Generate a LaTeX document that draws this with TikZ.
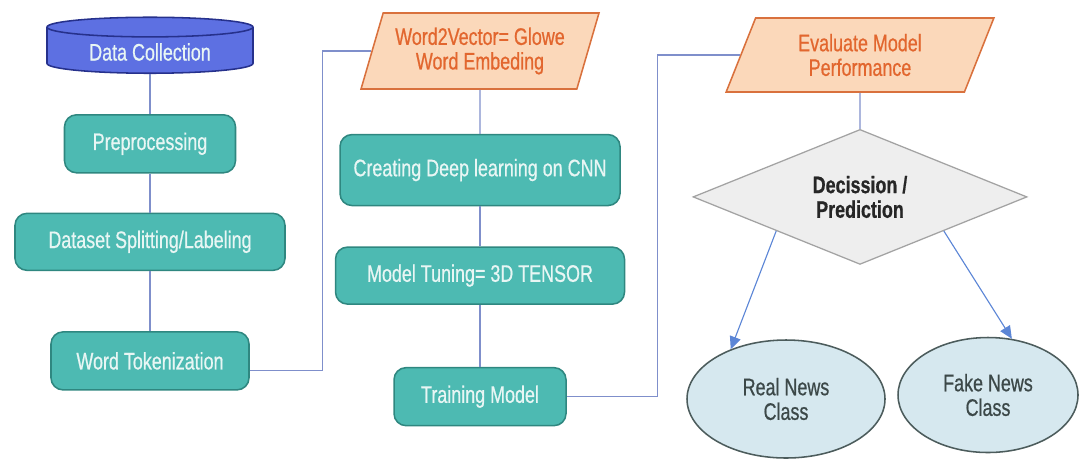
\documentclass[tikz,border=0pt]{standalone}
\usepackage{fontspec}
\setmainfont{Liberation Sans}[FakeStretch=0.75, FakeBold=0.6]
\usepackage{tikz}
\usetikzlibrary{shapes, arrows.meta, positioning}

\definecolor{tealfill}{HTML}{4DBAB2}
\definecolor{tealline}{HTML}{2F8780}
\definecolor{tealtext}{HTML}{E8F6F4}
\definecolor{dbfill}{HTML}{5D70E2}
\definecolor{dbline}{HTML}{26318C}
\definecolor{peachfill}{HTML}{FBD8BA}
\definecolor{peachline}{HTML}{D9713D}
\definecolor{peachtext}{HTML}{E2662E}
\definecolor{wirecol}{HTML}{7F8FCB}
\definecolor{arrowcol}{HTML}{5C86D6}
\definecolor{decfill}{HTML}{EEEEEE}
\definecolor{decline}{HTML}{A3A3A3}
\definecolor{classfill}{HTML}{D6E8EF}
\definecolor{classline}{HTML}{4C5C5C}
\definecolor{classtext}{HTML}{3C4848}

\begin{document}
\begin{tikzpicture}[
    font=\fontsize{17}{17.5}\selectfont,
    stage/.style={rectangle, rounded corners=0.3cm, draw=tealline, line width=1.1pt, fill=tealfill, text=tealtext, minimum height=1.45cm, align=center},
    io/.style={trapezium, trapezium left angle=70, trapezium right angle=110, trapezium stretches=true, draw=peachline, line width=1.1pt, fill=peachfill, text=peachtext, align=center},
    db/.style={cylinder, shape border rotate=90, shape aspect=0.15, draw=dbline, line width=1.1pt, cylinder uses custom fill, cylinder body fill=dbfill, cylinder end fill=dbfill, text=tealtext},
    decide/.style={diamond, aspect=2.6, inner sep=0pt, draw=decline, line width=0.9pt, fill=decfill, text=black!85, font=\fontsize{17}{17.5}\selectfont\bfseries, align=center},
    outcome/.style={ellipse, draw=classline, line width=1.1pt, fill=classfill, text=classtext, align=center},
    wire/.style={draw=wirecol, line width=0.8pt},
    arrow/.style={-{Triangle[length=9pt, width=8pt]}, draw=arrowcol, line width=0.8pt}
]
    \useasboundingbox (0,0) rectangle (27,-11.475);

    % Data preparation
    \node[db, minimum width=5.15cm, minimum height=1.4cm] (data) at (3.75,-1.3) {Data Collection};
    \node[stage, minimum width=4.275cm, below=1cm of data] (prep) {Preprocessing};
    \node[stage, minimum width=6.75cm, minimum height=1.425cm, below=0.975cm of prep] (split) {Dataset Splitting/Labeling};
    \node[stage, minimum width=4.95cm, below=1.5cm of split] (tok) {Word Tokenization};

    % Model
    \node[io, minimum width=5.95cm, minimum height=1.9cm] (w2v) at (12,-1.275) {Word2Vector= Glowe \\ Word Embeding};
    \node[stage, minimum width=7cm, minimum height=1.775cm, below=1.1cm of w2v] (cnn) {Creating Deep learning on CNN};
    \node[stage, minimum width=7.225cm, minimum height=1.425cm, below=1cm of cnn] (tune) {Model Tuning= 3D TENSOR};
    \node[stage, minimum width=4.3cm, below=1.55cm of tune] (train) {Training Model};

    % Evaluation
    \node[io, minimum width=6.7cm, minimum height=1.85cm] (eval) at (21.5,-1.375) {Evaluate Model \\ Performance};
    \node[decide, minimum width=8.35cm, minimum height=3.375cm, below=0.9cm of eval] (dec) {Decission / \\ Prediction};
    \node[outcome, minimum width=4.95cm, minimum height=2.95cm] (real) at (19.65,-9.975) {Real News \\ Class};
    \node[outcome, minimum width=4.5cm, minimum height=2.875cm] (fake) at (24.7,-9.875) {Fake News \\ Class};

    % Connectors
    \draw[wire] (data) -- (prep);
    \draw[wire] (prep) -- (split);
    \draw[wire] (split) -- (tok);
    \draw[wire] ([yshift=-0.25cm]tok.east) -- ++(1.825,0) |- (w2v.west);
    \draw[wire] (w2v) -- (cnn);
    \draw[wire] (cnn) -- (tune);
    \draw[wire] (tune) -- (train);
    \draw[wire] (train.east) -- ++(2.275,0) |- (eval.west);
    \draw[wire] (eval) -- (dec);
    \draw[arrow] (dec.south west) -- (real.138);
    \draw[arrow] (dec.south east) -- (fake.67);
\end{tikzpicture}
\end{document}
